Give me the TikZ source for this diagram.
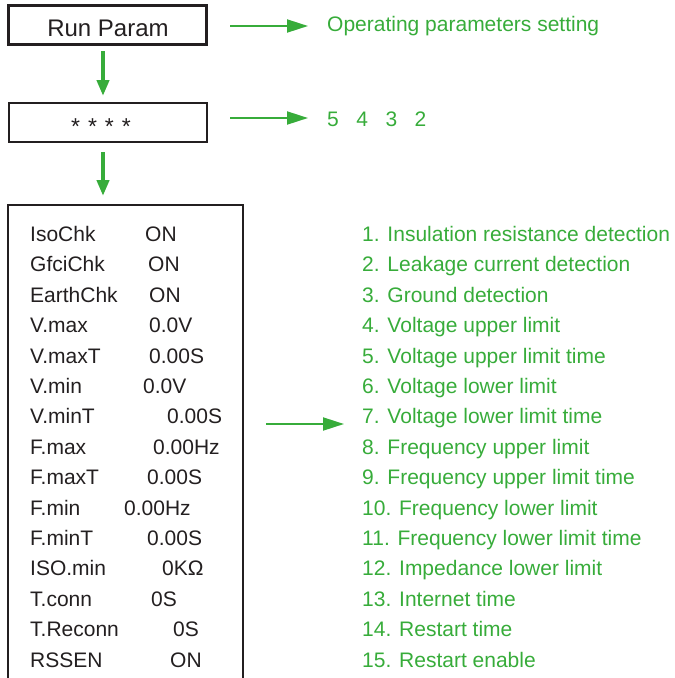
\documentclass[tikz,border=0pt]{standalone}
\usepackage{fontspec}
\setmainfont{Liberation Sans}
\usetikzlibrary{arrows.meta}
\definecolor{lg}{RGB}{55,172,58}
\definecolor{ink}{RGB}{35,31,32}
\begin{document}
\begin{tikzpicture}[x=1pt,y=-1pt,
  box/.style={draw=ink,line width=2.5pt,inner sep=0pt,minimum width=198pt,minimum height=39pt},
  txt/.style={anchor=base west,inner sep=0pt,font=\fontsize{21}{25}\selectfont,text=ink},
  gtxt/.style={anchor=base west,inner sep=0pt,font=\fontsize{21}{25}\selectfont,text=lg},
  downarr/.style={draw=lg,line width=4.5pt,-{Triangle[length=16pt,width=12pt]}},
  rarr/.style={draw=lg,line width=2pt,-{Triangle[length=21pt,width=13pt]}}]
\useasboundingbox (0,0) rectangle (675,678);

% boxes
\node[box] (b1) at (107.5,25) {};
\node[anchor=base,inner sep=0pt,font=\fontsize{24}{28}\selectfont,text=ink] (t1) at (108,36) {Run Param};
\node[box] (b2) at (108,122.5) {};
\node[anchor=base,inner sep=0pt,font=\fontsize{23}{26}\selectfont,text=ink] (t2) at (101,134.5) {*\hspace{8pt}*\hspace{8pt}*\hspace{8pt}*};
\draw[draw=ink,line width=2.5pt] (8,690) -- (8,205) -- (243,205) -- (243,690);

% down arrows
\coordinate (d1a) at (103,51); \coordinate (d1b) at (103,96);
\coordinate (d2a) at (103,152); \coordinate (d2b) at (103,196);
\draw[downarr] (d1a) -- (d1b);
\draw[downarr] (d2a) -- (d2b);

% right arrows
\coordinate (r1a) at (230,26); \coordinate (r1b) at (308,26);
\coordinate (r2a) at (230,118); \coordinate (r2b) at (308,118);
\coordinate (r3a) at (266,424); \coordinate (r3b) at (344,424);
\draw[rarr] (r1a) -- (r1b);
\draw[rarr] (r2a) -- (r2b);
\draw[rarr] (r3a) -- (r3b);

\node[gtxt] (op) at (327,31.5) {Operating parameters setting};
\node[gtxt] (pw) at (327,126) {5\hspace{17.5pt}4\hspace{17.5pt}3\hspace{17.5pt}2};

% left list
\foreach \i/\lab/\vx/\val in {
 0/IsoChk/145/ON,
 1/GfciChk/148/ON,
 2/EarthChk/149/ON,
 3/V.max/149/0.0V,
 4/V.maxT/149/0.00S,
 5/V.min/143/0.0V,
 6/V.minT/167/0.00S,
 7/F.max/153/0.00Hz,
 8/F.maxT/147/0.00S,
 9/F.min/124/0.00Hz,
 10/F.minT/147/0.00S,
 11/ISO.min/162/0KΩ,
 12/T.conn/151/0S,
 13/T.Reconn/173/0S,
 14/RSSEN/170/ON}{
  \node[txt] (l\i) at (30,241.5+30.4*\i) {\lab};
  \node[txt] (v\i) at (\vx,241.5+30.4*\i) {\val};
}

% right list
\foreach \i/\t in {
 0/{1. Insulation resistance detection},
 1/{2. Leakage current detection},
 2/{3. Ground detection},
 3/{4. Voltage upper limit},
 4/{5. Voltage upper limit time},
 5/{6. Voltage lower limit},
 6/{7. Voltage lower limit time},
 7/{8. Frequency upper limit},
 8/{9. Frequency upper limit time},
 9/{10. Frequency lower limit},
 10/{11. Frequency lower limit time},
 11/{12. Impedance lower limit},
 12/{13. Internet time},
 13/{14. Restart time},
 14/{15. Restart enable}}{
  \node[gtxt] (g\i) at (362,241.5+30.4*\i) {\t};
}
\end{tikzpicture}
\end{document}
